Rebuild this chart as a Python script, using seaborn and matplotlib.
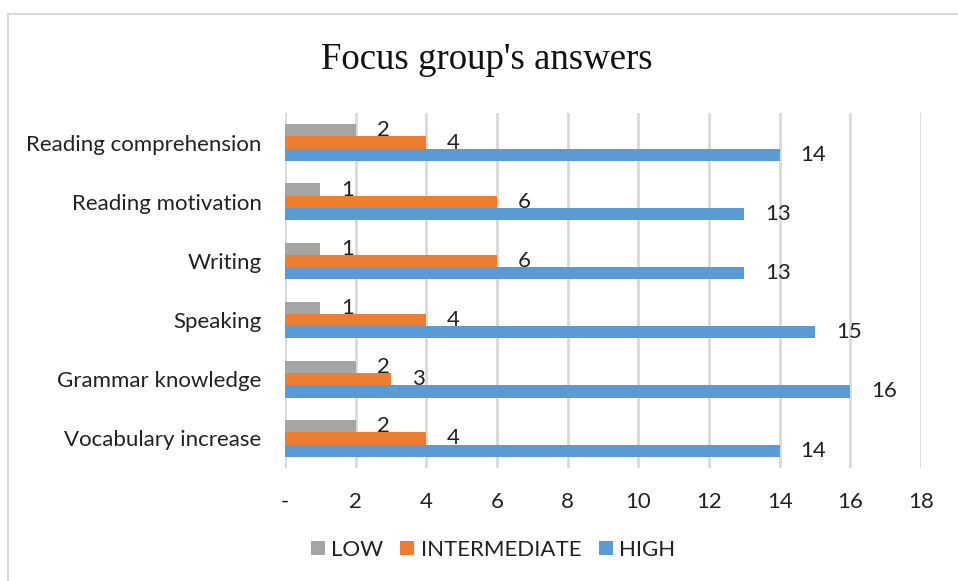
import matplotlib
matplotlib.use("Agg")
import matplotlib.pyplot as plt
import seaborn as sns
import pandas as pd
from matplotlib.lines import Line2D

categories = ["Reading comprehension", "Reading motivation", "Writing",
              "Speaking", "Grammar knowledge", "Vocabulary increase"]
low = [2, 1, 1, 1, 2, 2]
intermediate = [4, 6, 6, 4, 3, 4]
high = [14, 13, 13, 15, 16, 14]
series = ["LOW", "INTERMEDIATE", "HIGH"]
colors = ["#A5A5A5", "#ED7D31", "#5B9BD5"]
xticks = [0, 2, 4, 6, 8, 10, 12, 14, 16, 18]
xticklabels = ["-", "2", "4", "6", "8", "10", "12", "14", "16", "18"]

rows = []
for name, vals in zip(series, [low, intermediate, high]):
    for c, v in zip(categories, vals):
        rows.append({"category": c, "series": name, "value": v})
df = pd.DataFrame(rows)

sns.set_theme(style="white")
plt.rcParams["font.family"] = ["Lato", "DejaVu Sans"]

fig = plt.figure(figsize=(9.58, 5.81), dpi=100)
ax = fig.add_axes([285/958, 1-468/581, (921-285)/958, (468-113)/581])

sns.barplot(data=df, y="category", x="value", hue="series", order=categories,
            hue_order=series, palette=colors, orient="h", width=0.62,
            linewidth=0, saturation=1, ax=ax, legend=False, errorbar=None)

ax.set_xlim(0, 18)
ax.set_ylim(5.5, -0.5)
ax.set_xticks(xticks)
ax.set_xticklabels(xticklabels, fontsize=16, color="#222222")
ax.tick_params(axis="x", length=0, pad=17)
ax.tick_params(axis="y", length=0, pad=17, labelsize=16, labelcolor="#222222")
ax.set_xlabel("")
ax.set_ylabel("")
ax.grid(axis="x", color="#D9D9D9", linewidth=2)
ax.set_axisbelow(True)
for s in ax.spines.values():
    s.set_visible(False)

for cont in ax.containers:
    ax.bar_label(cont, padding=15, fontsize=16, color="#222222")

fig.text(487/958, 1-60/581, "Focus group's answers", ha="center", va="center",
         fontsize=26.5, family="Liberation Serif", color="#111111")

handles = [Line2D([0], [0], marker="s", linestyle="", markersize=10,
                  markerfacecolor=c, markeredgewidth=0) for c in colors]
fig.legend(handles, series, loc="center", bbox_to_anchor=(493/958, 1-550/581),
           ncol=3, frameon=False, fontsize=16, handletextpad=0.3,
           handlelength=0.6, columnspacing=0.8, labelcolor="#222222")

# chart frame (top and left edges visible)
fig.add_artist(Line2D([8/958, 8/958], [0, 1-14/581], transform=fig.transFigure,
                      color="#D9D9D9", linewidth=1.5))
fig.add_artist(Line2D([8/958, 1], [1-14/581, 1-14/581], transform=fig.transFigure,
                      color="#D9D9D9", linewidth=1.5))

fig.savefig("out.png", dpi=100)
